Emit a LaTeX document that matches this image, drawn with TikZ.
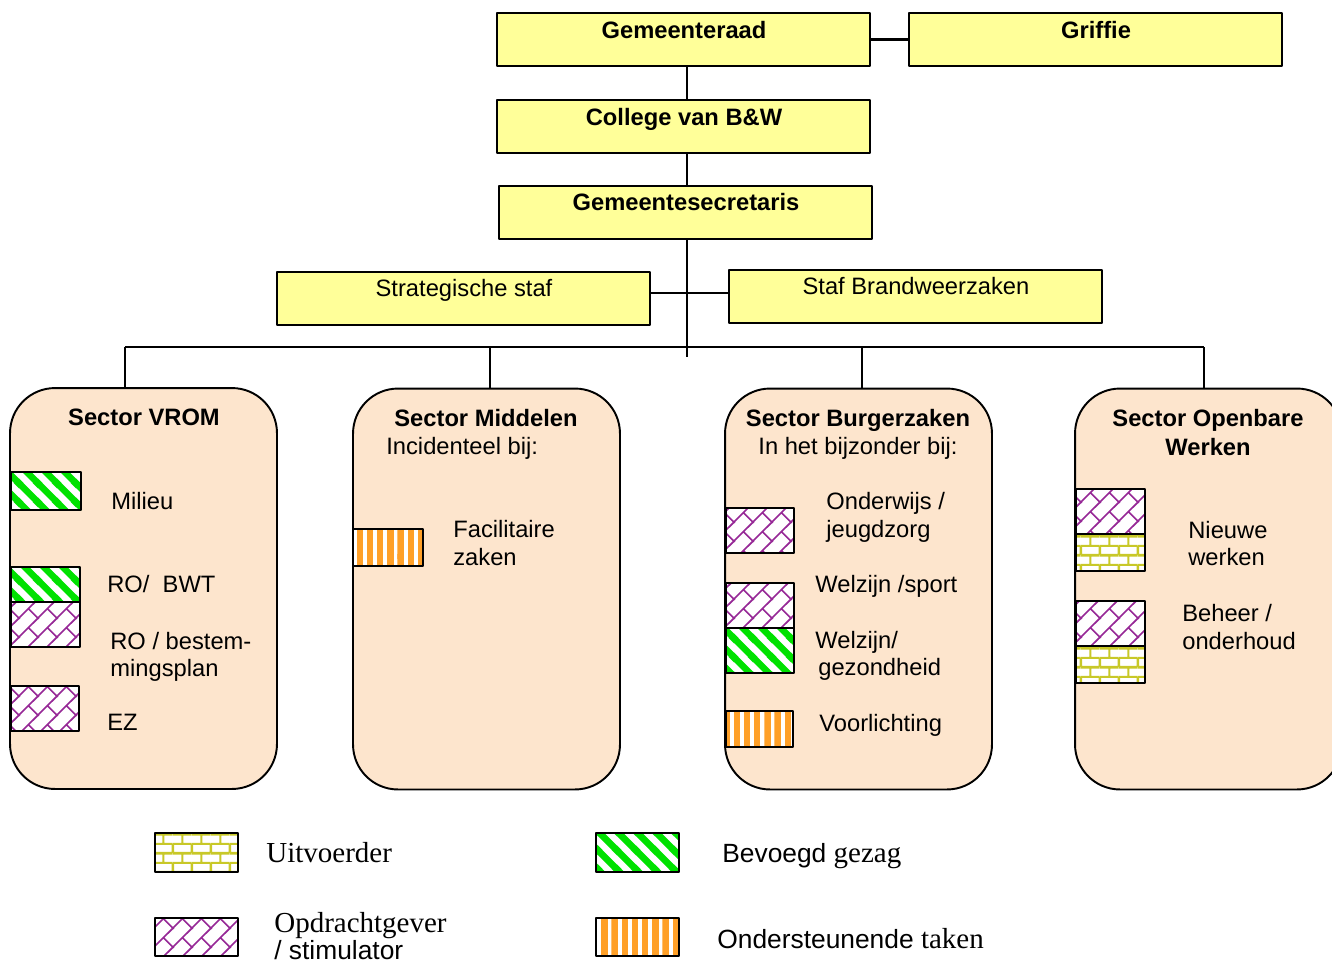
\documentclass[tikz,border=0pt]{standalone}
\usepackage{fontspec}
\setmainfont{Liberation Sans}
\newfontfamily\timesfont{Liberation Serif}
\usetikzlibrary{patterns}

\definecolor{raadgeel}{RGB}{255,255,153}
\definecolor{sectorbg}{RGB}{253,229,205}
\definecolor{gezaggroen}{RGB}{0,225,0}
\definecolor{steunoranje}{RGB}{255,160,40}
\definecolor{steengeel}{RGB}{200,200,40}
\definecolor{opdrpaars}{RGB}{150,40,150}

\newcommand\txt{\fontsize{13.5}{16}\selectfont}
\newcommand\legsans{\fontsize{15}{18}\selectfont}
\newcommand\legserif{\fontsize{16.5}{19}\selectfont\timesfont}

% legend patterns
\pgfdeclarepatternformonly{gezag}{\pgfpointorigin}{\pgfqpoint{11pt}{11pt}}{\pgfqpoint{11pt}{11pt}}{%
  \pgfsetlinewidth{3.9pt}%
  \pgfpathmoveto{\pgfqpoint{-2pt}{13pt}}\pgfpathlineto{\pgfqpoint{13pt}{-2pt}}%
  \pgfpathmoveto{\pgfqpoint{-5pt}{5pt}}\pgfpathlineto{\pgfqpoint{5pt}{-5pt}}%
  \pgfpathmoveto{\pgfqpoint{6pt}{16pt}}\pgfpathlineto{\pgfqpoint{16pt}{6pt}}%
  \pgfusepath{stroke}}
\pgfdeclarepatternformonly{steun}{\pgfqpoint{0pt}{-1pt}}{\pgfqpoint{5.8pt}{60pt}}{\pgfqpoint{5.8pt}{58pt}}{%
  \pgfpathrectangle{\pgfqpoint{0pt}{-1pt}}{\pgfqpoint{3.6pt}{61pt}}\pgfusepath{fill}}
\pgfdeclarepatternformonly{baksteen}{\pgfpointorigin}{\pgfqpoint{11pt}{10.6pt}}{\pgfqpoint{11pt}{10.6pt}}{%
  \pgfsetlinewidth{1.2pt}%
  \pgfpathmoveto{\pgfqpoint{0pt}{0pt}}\pgfpathlineto{\pgfqpoint{11pt}{0pt}}%
  \pgfpathmoveto{\pgfqpoint{0pt}{5.3pt}}\pgfpathlineto{\pgfqpoint{11pt}{5.3pt}}%
  \pgfpathmoveto{\pgfqpoint{0pt}{10.6pt}}\pgfpathlineto{\pgfqpoint{11pt}{10.6pt}}%
  \pgfpathmoveto{\pgfqpoint{0pt}{0pt}}\pgfpathlineto{\pgfqpoint{0pt}{5.3pt}}%
  \pgfpathmoveto{\pgfqpoint{11pt}{0pt}}\pgfpathlineto{\pgfqpoint{11pt}{5.3pt}}%
  \pgfpathmoveto{\pgfqpoint{5.5pt}{5.3pt}}\pgfpathlineto{\pgfqpoint{5.5pt}{10.6pt}}%
  \pgfusepath{stroke}}
\pgfdeclarepatternformonly{diagsteen}{\pgfpointorigin}{\pgfqpoint{11pt}{11pt}}{\pgfqpoint{11pt}{11pt}}{%
  \pgfsetlinewidth{1pt}%
  \pgfpathmoveto{\pgfqpoint{-1pt}{-1pt}}\pgfpathlineto{\pgfqpoint{12pt}{12pt}}%
  \pgfpathmoveto{\pgfqpoint{-1pt}{10pt}}\pgfpathlineto{\pgfqpoint{1pt}{12pt}}%
  \pgfpathmoveto{\pgfqpoint{10pt}{-1pt}}\pgfpathlineto{\pgfqpoint{12pt}{1pt}}%
  \pgfpathmoveto{\pgfqpoint{5.5pt}{5.5pt}}\pgfpathlineto{\pgfqpoint{11.5pt}{-0.5pt}}%
  \pgfusepath{stroke}}

\begin{document}
\begin{tikzpicture}[x=0.02cm, y=-0.02cm, line join=round,
    topbox/.style={draw, fill=raadgeel, line width=1.1pt, minimum width=7.46cm, minimum height=1.06cm, inner sep=0pt},
    sector/.style={draw, fill=sectorbg, line width=1.1pt, rounded corners=0.9cm, minimum width=5.34cm, minimum height=8.02cm, inner sep=0pt},
    swatch/.style={draw, line width=1.1pt, preaction={fill=white}},
    uitvoerder/.style={swatch, pattern=baksteen, pattern color=steengeel},
    opdracht/.style={swatch, pattern=diagsteen, pattern color=opdrpaars},
    bevoegd/.style={swatch, pattern=gezag, pattern color=gezaggroen},
    steuntaak/.style={swatch, pattern=steun, pattern color=steunoranje},
    kop/.style={font=\txt\bfseries, anchor=base, inner sep=0pt},
    sub/.style={font=\txt, anchor=base, inner sep=0pt},
    lbl/.style={font=\txt, anchor=base west, inner sep=0pt},
    dun/.style={line width=0.6pt},
    mid/.style={line width=0.8pt},
    dik/.style={line width=1.2pt}]
  \useasboundingbox (0,0) rectangle (1332,965);

  % top of the organisation
  \node[topbox] (raad) at (683.5,39.5) {};
  \node[topbox] (griffie) at (1095.5,39.5) {};
  \node[topbox] (college) at (683.5,126.5) {};
  \node[topbox] (secretaris) at (685.5,212.5) {};
  \node[topbox] (strat) at (463.5,298.5) {};
  \node[topbox] (brand) at (915.5,296.5) {};
  \node[kop] at (684,38) {Gemeenteraad};
  \node[kop] at (1096,38) {Griffie};
  \node[kop] at (684,125) {College van B\&W};
  \node[kop] at (686,210) {Gemeentesecretaris};
  \node[sub] at (464,296) {Strategische staf};
  \node[sub] at (916,294) {Staf Brandweerzaken};

  \coordinate (stem) at (687,357);
  \coordinate (stafas) at (687,293);
  \coordinate (busL) at (125,347);
  \coordinate (busR) at (1204,347);

  \draw[dik] (raad.east) -- (griffie.west);
  \draw[dun] (raad.south -| stem) -- (college.north -| stem);
  \draw[dun] (college.south -| stem) -- (secretaris.north -| stem);
  \draw[dun] (secretaris.south -| stem) -- (stem);
  \draw[dik] (stafas -| strat.east) -- (stafas -| brand.west);
  \draw[dik] (busL) -- (busR);

  % sectors
  \node[sector] (vrom) at (143.5,588.5) {};
  \node[sector] (middelen) at (486.5,589) {};
  \node[sector] (burger) at (858.5,589) {};
  \node[sector] (openbaar) at (1208.5,589) {};
  \foreach \s/\x in {vrom/125, middelen/490, burger/862, openbaar/1204}
    \draw[mid] (\x,347) -- (\s.north -| \x,347);

  \node[kop] at (144,425) {Sector VROM};
  \node[kop] at (486,426) {Sector Middelen};
  \node[lbl] at (386,454) {Incidenteel bij:};
  \node[kop] at (858,426) {Sector Burgerzaken};
  \node[sub] at (858,454) {In het bijzonder bij:};
  \node[kop] at (1208,426) {Sector Openbare};
  \node[kop] at (1208,455) {Werken};

  % VROM
  \draw[bevoegd] (11,472) rectangle (81,510);
  \draw[bevoegd] (11,567) rectangle (80,602);
  \draw[opdracht] (11,602) rectangle (80,647);
  \draw[opdracht] (11,686) rectangle (79,731);
  \node[lbl] at (111,509) {Milieu};
  \node[lbl] at (107,592) {RO/\ \ BWT};
  \node[lbl] at (110,649) {RO / bestem-};
  \node[lbl] at (110,676) {mingsplan};
  \node[lbl] at (107,730) {EZ};

  % Middelen
  \draw[steuntaak] (353,529) rectangle (423,566);
  \node[lbl] at (453,537) {Facilitaire};
  \node[lbl] at (453,565) {zaken};

  % Burgerzaken
  \draw[opdracht] (726,508) rectangle (794,553);
  \draw[opdracht] (726,583) rectangle (794,628);
  \draw[bevoegd] (726,628) rectangle (794,673);
  \draw[steuntaak] (726,711) rectangle (793,747);
  \node[lbl] at (826,509) {Onderwijs /};
  \node[lbl] at (826,537) {jeugdzorg};
  \node[lbl] at (815,592) {Welzijn /sport};
  \node[lbl] at (815,648) {Welzijn/};
  \node[lbl] at (818,675) {gezondheid};
  \node[lbl] at (819,731) {Voorlichting};

  % Openbare Werken
  \draw[opdracht] (1076,489) rectangle (1145,534);
  \draw[uitvoerder] (1076,534) rectangle (1145,571);
  \draw[opdracht] (1076,601) rectangle (1145,646);
  \draw[uitvoerder] (1076,646) rectangle (1145,683);
  \node[lbl] at (1188,538) {Nieuwe};
  \node[lbl] at (1188,565) {werken};
  \node[lbl] at (1182,621) {Beheer /};
  \node[lbl] at (1182,649) {onderhoud};

  % legend
  \draw[uitvoerder] (155,833) rectangle (238,872);
  \draw[opdracht] (155,918) rectangle (238,956);
  \draw[bevoegd] (596,833) rectangle (679,872);
  \draw[steuntaak] (596,918) rectangle (679,956);
  \node[lbl, font=\legserif] at (266,862) {Uitvoerder};
  \node[lbl, font=\legserif] at (274,932) {Opdrachtgever};
  \node[lbl, font=\legsans] at (274,959) {/ stimulator};
  \node[lbl, font=\legsans] at (722,862) {Bevoegd {\legserif gezag}};
  \node[lbl, font=\legsans] at (717,948) {Ondersteunende {\legserif taken}};
\end{tikzpicture}
\end{document}
